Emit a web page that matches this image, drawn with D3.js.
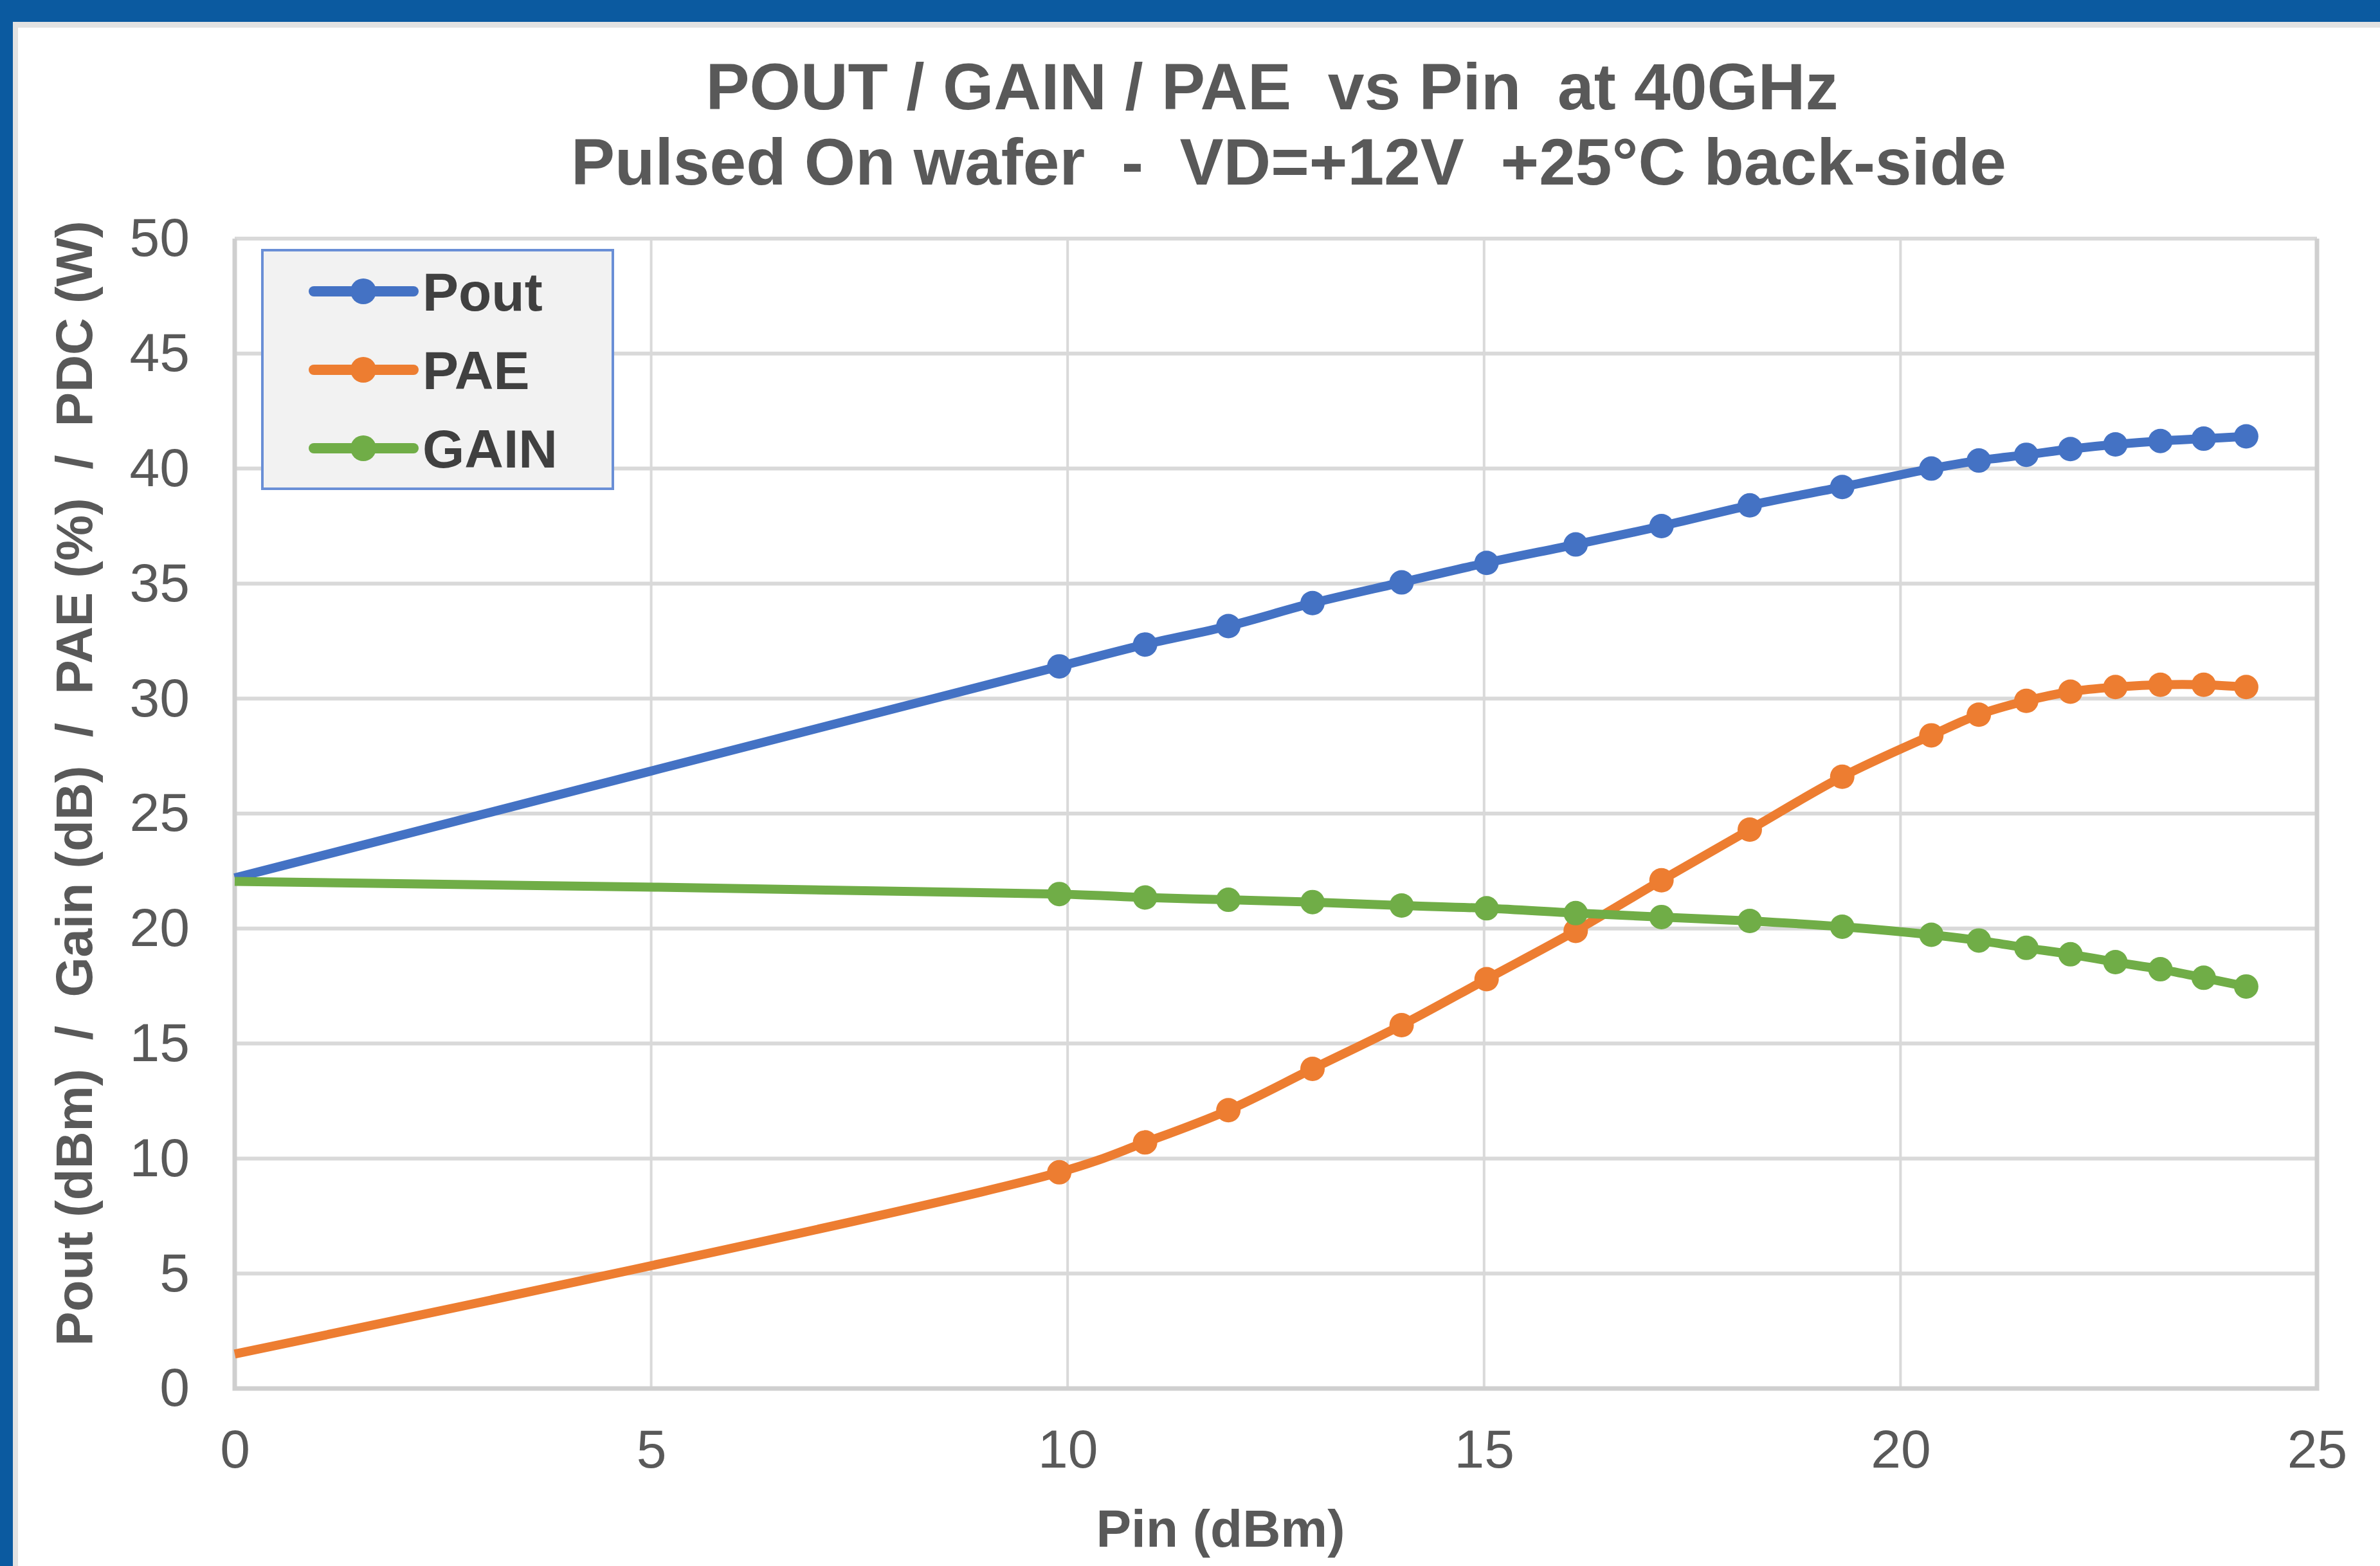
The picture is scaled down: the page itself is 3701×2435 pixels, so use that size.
<!DOCTYPE html>
<html>
<head>
<meta charset="utf-8">
<script src="https://cdn.jsdelivr.net/npm/d3@7/dist/d3.min.js"></script>
<style>
  body { margin: 0; background: #fff; }
  text { font-family: "Liberation Sans", Arial, sans-serif; }
</style>
</head>
<body>
<div id="chart-area"></div>
<script>

// data
const pin  = [0, 9.9, 10.93, 11.93, 12.94, 14.01, 15.03, 16.1, 17.13, 18.19, 19.3, 20.37, 20.94, 21.51, 22.04, 22.58, 23.12, 23.64, 24.15];
const pout = [22.2, 31.4, 32.35, 33.15, 34.15, 35.05, 35.9, 36.7, 37.5, 38.4, 39.2, 40.0, 40.35, 40.6, 40.85, 41.05, 41.2, 41.3, 41.4];
const pae  = [1.5, 9.4, 10.7, 12.1, 13.9, 15.8, 17.8, 19.9, 22.1, 24.3, 26.6, 28.4, 29.3, 29.9, 30.3, 30.5, 30.6, 30.6, 30.5];
const gain = [22.05, 21.5, 21.35, 21.25, 21.15, 21.0, 20.88, 20.67, 20.5, 20.33, 20.08, 19.73, 19.48, 19.16, 18.88, 18.54, 18.23, 17.86, 17.48];

const seriesNames  = ["Pout", "PAE", "GAIN"];
const seriesColors = ["#4472c4", "#ed7d31", "#70ad47"];
const xTicks = [0, 5, 10, 15, 20, 25];
const yTicks = [0, 5, 10, 15, 20, 25, 30, 35, 40, 45, 50];
const titleLines = ["POUT / GAIN / PAE  vs Pin  at 40GHz", "Pulsed On wafer  -  VD=+12V  +25°C back-side"];

const width = 3701;
const height = 2435;
const margin = {top: 371, right: 98, bottom: 276, left: 365};

var svg = d3.select("#chart-area").append("svg")
	.attr("width", width)
	.attr("height", height);

// 外框
svg.append("rect").attr("x", 0).attr("y", 0).attr("width", width).attr("height", height).attr("fill", "#fff");
svg.append("rect").attr("x", 20).attr("y", 34).attr("width", width - 20).attr("height", 9).attr("fill", "#e2e2e2");
svg.append("rect").attr("x", 20).attr("y", 34).attr("width", 8).attr("height", height - 34).attr("fill", "#e2e2e2");
svg.append("rect").attr("x", 0).attr("y", 0).attr("width", width).attr("height", 34).attr("fill", "#0b5aa0");
svg.append("rect").attr("x", 0).attr("y", 0).attr("width", 20).attr("height", height).attr("fill", "#0b5aa0");

// 比例尺
var x = d3.scaleLinear()
	.domain([0, 25])
	.range([margin.left, width - margin.right]);
var y = d3.scaleLinear()
	.domain([0, 50])
	.range([height - margin.bottom, margin.top]);

// 网格
svg.append("g")
	.selectAll("line")
	.data(yTicks)
	.enter().append("line")
	.attr("x1", x(0)).attr("x2", x(25))
	.attr("y1", d => y(d)).attr("y2", d => y(d))
	.attr("stroke", "#d9d9d9")
	.attr("stroke-width", 6);
svg.append("g")
	.selectAll("line")
	.data(xTicks)
	.enter().append("line")
	.attr("x1", d => x(d)).attr("x2", d => x(d))
	.attr("y1", y(0)).attr("y2", y(50))
	.attr("stroke", "#d9d9d9")
	.attr("stroke-width", 4);

// 坐标轴边线
svg.append("path")
	.attr("d", `M${x(0)},${y(50)}V${y(0)}H${x(25)}V${y(50)}`)
	.attr("fill", "none")
	.attr("stroke", "#cfcfcf")
	.attr("stroke-width", 7);

// x轴
var xAxis = svg.append("g")
	.attr("transform", `translate(0,${y(0)})`)
	.call(d3.axisBottom(x).tickValues(xTicks).tickSize(0).tickPadding(63));
xAxis.select(".domain").remove();
xAxis.selectAll("text")
	.attr("font-family", "Liberation Sans, Arial, sans-serif")
	.attr("font-size", 84)
	.attr("fill", "#595959");

// y轴
var yAxis = svg.append("g")
	.attr("transform", `translate(${x(0)},0)`)
	.call(d3.axisLeft(y).tickValues(yTicks).tickSize(0).tickPadding(70));
yAxis.select(".domain").remove();
yAxis.selectAll("text")
	.attr("font-family", "Liberation Sans, Arial, sans-serif")
	.attr("font-size", 84)
	.attr("fill", "#595959");

// 轴标题
svg.append("text")
	.attr("x", 1898)
	.attr("y", 2405)
	.attr("text-anchor", "middle")
	.attr("font-size", 82)
	.attr("font-weight", "bold")
	.attr("fill", "#595959")
	.text("Pin (dBm)");
svg.append("text")
	.attr("transform", "translate(143,1218) rotate(-90)")
	.attr("text-anchor", "middle")
	.attr("font-size", 80)
	.attr("font-weight", "bold")
	.attr("fill", "#595959")
	.style("white-space", "pre")
	.text("Pout (dBm)  /  Gain (dB)  /  PAE (%)  /  PDC (W)");

// 标题
svg.selectAll(".title")
	.data(titleLines)
	.enter().append("text")
	.attr("class", "title")
	.attr("x", (d, i) => i === 0 ? 1978 : 2004)
	.attr("y", (d, i) => 170 + i * 117)
	.attr("text-anchor", "middle")
	.attr("font-size", 102)
	.attr("font-weight", "bold")
	.attr("fill", "#595959")
	.style("white-space", "pre")
	.text(d => d);

// 折线
var line = d3.line()
	.x(d => x(d[0]))
	.y(d => y(d[1]))
	.curve(d3.curveCatmullRom.alpha(0.5));

[pout, pae, gain].forEach((vals, k) => {
	var pts = pin.map((p, i) => [p, vals[i]]);
	svg.append("path")
		.datum(pts)
		.attr("fill", "none")
		.attr("stroke", seriesColors[k])
		.attr("stroke-width", 14)
		.attr("stroke-linejoin", "round")
		.attr("d", line);
	svg.selectAll(".dot" + k)
		.data(pts.slice(1))
		.enter().append("circle")
		.attr("class", "dot" + k)
		.attr("cx", d => x(d[0]))
		.attr("cy", d => y(d[1]))
		.attr("r", 19)
		.attr("fill", seriesColors[k]);
});

// 图例
svg.append("rect")
	.attr("x", 408)
	.attr("y", 389)
	.attr("width", 545)
	.attr("height", 371)
	.attr("fill", "#f2f2f2")
	.attr("stroke", "#6a8fd6")
	.attr("stroke-width", 4);

seriesNames.forEach((name, i) => {
	var ly = 453 + i * 122;
	svg.append("line")
		.attr("x1", 488).attr("x2", 643)
		.attr("y1", ly).attr("y2", ly)
		.attr("stroke", seriesColors[i])
		.attr("stroke-width", 16)
		.attr("stroke-linecap", "round");
	svg.append("circle")
		.attr("cx", 565).attr("cy", ly)
		.attr("r", 20)
		.attr("fill", seriesColors[i]);
	svg.append("text")
		.attr("x", 657)
		.attr("y", ly + 30)
		.attr("font-size", 84)
		.attr("font-weight", "bold")
		.attr("fill", "#404040")
		.text(name);
});

</script>
</body>
</html>
